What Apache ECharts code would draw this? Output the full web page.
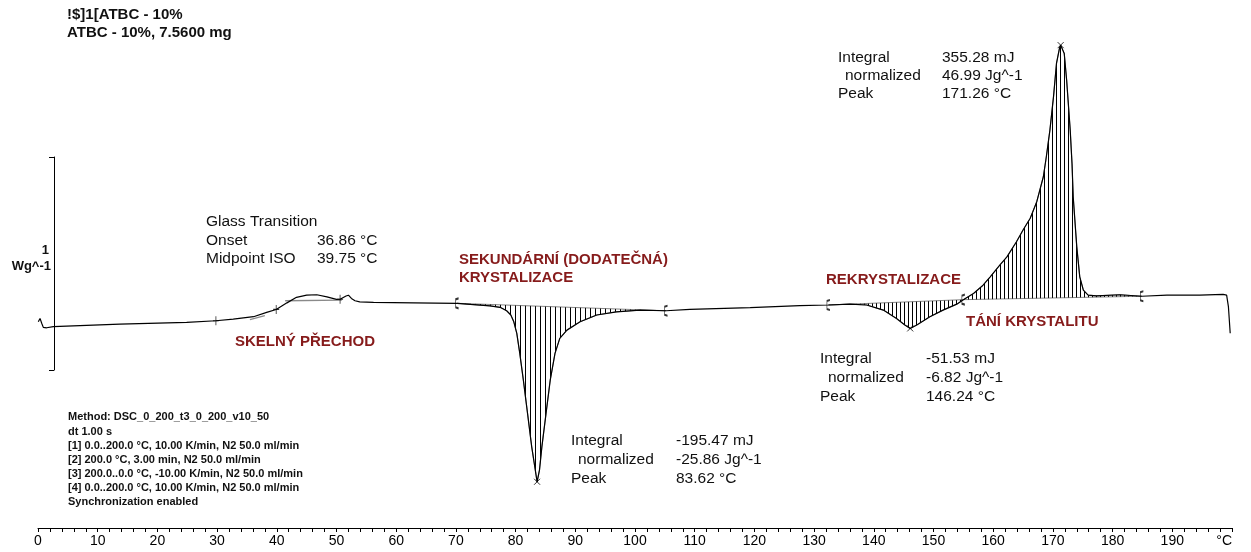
<!DOCTYPE html>
<html>
<head>
<meta charset="utf-8">
<script src="https://cdn.jsdelivr.net/npm/echarts@6.0.0/dist/echarts.min.js"></script>
<style>
html,body{margin:0;padding:0;background:#fff;}
#chart{width:1251px;height:552px;}
</style>
</head>
<body>
<div id="chart"></div>
<script>
// ---- data (temperature in °C, heat flow in W/g relative) ----
const temperature = [0.05,0.34,0.62,0.89,1.46,2.56,13.7,24.9,29.8,32.7,36.1,38.3,39.9,41.7,43.3,45.0,46.7,48.4,50.0,50.6,51.6,52.0,52.5,53.1,53.9,56.2,62.9,
  70.2,72.4,75.7,77.4,78.5,79.2,79.7,80.2,80.7,81.3,82.0,82.7,83.3,83.6,84.0,84.4,85.1,85.8,86.6,87.4,88.6,90.8,93.6,96.9,100.8,105.2,
  109.2,119.3,127.6,132.4,136.0,138.8,141.6,143.8,145.2,146.1,147.2,149.4,151.6,153.9,155.0,
  156.7,158.3,159.5,161.1,162.3,163.9,165.0,166.2,167.3,168.4,168.9,169.5,170.1,170.6,171.1,171.3,171.9,172.3,172.9,173.2,173.4,174.0,174.5,175.1,175.9,177.3,181.2,184.9,
  189.1,194.6,198.5,199.1,199.4,199.7];
const heatFlow = [-0.102,-0.086,-0.109,-0.128,-0.130,-0.125,-0.113,-0.105,-0.097,-0.089,-0.078,-0.058,-0.044,-0.013,0.013,0.023,0.025,0.015,0.003,0.004,0.019,0.023,0.008,-0.003,-0.008,-0.011,-0.013,
  -0.015,-0.020,-0.027,-0.034,-0.050,-0.070,-0.102,-0.156,-0.250,-0.376,-0.532,-0.689,-0.798,-0.853,-0.798,-0.689,-0.532,-0.376,-0.250,-0.180,-0.141,-0.102,-0.070,-0.055,-0.047,-0.050,
  -0.044,-0.035,-0.026,-0.023,-0.019,-0.023,-0.047,-0.086,-0.117,-0.133,-0.117,-0.078,-0.047,-0.019,0.002,
  0.031,0.070,0.109,0.164,0.203,0.274,0.329,0.384,0.462,0.579,0.673,0.798,0.954,1.111,1.182,1.197,1.158,1.033,0.798,0.642,0.485,0.250,0.109,0.047,0.023,0.020,0.025,0.018,
  0.023,0.023,0.027,0.023,-0.031,-0.156];

// integration limits (°C) and peaks
const integralStart = [70.2, 132.4, 155.0];
const integralEnd   = [105.2, 155.0, 184.9];
const peakTemps = [83.6, 146.1, 171.3];
const glassMarks = [29.8, 39.9, 50.6];
const glassTangentLow  = [[35.5,-0.092],[38.0,-0.073]];
const glassTangentHigh = [[41.4,-0.003],[50.9,0.000]];
const xTicks = {min:0, max:200, step:10};

function nearestIdx(t){
  let best=0, d=1e9;
  for(let i=0;i<temperature.length;i++){ const dd=Math.abs(temperature[i]-t); if(dd<d){d=dd;best=i;} }
  return best;
}
const curve = temperature.map((t,i)=>[t, heatFlow[i]]);
const limitPts = integralStart.concat([integralEnd[0], integralEnd[2]]).map(t=>{const i=nearestIdx(t);return [temperature[i],heatFlow[i]];});
const peakPts = peakTemps.map(t=>{const i=nearestIdx(t);return [temperature[i],heatFlow[i]];});
const glassPts = glassMarks.map(t=>{const i=nearestIdx(t);return [temperature[i],heatFlow[i]];});

function hatch(step){
  const c=document.createElement('canvas'); c.width=step; c.height=2;
  const g=c.getContext('2d'); g.fillStyle='#000'; g.fillRect(0,0,1,2);
  return {image:c, repeat:'repeat'};
}
const hatchFills = [hatch(5), hatch(4), hatch(4)];

const FONT = '"Liberation Sans", Arial, sans-serif';
const RED = '#861b1b';
function txt(x,y,text,size,weight,color,align){
  return {type:'text', x:x, y:y, silent:true,
    style:{text:text, fill:color||'#111', align:align||'left', verticalAlign:'middle',
      font:(weight||'normal')+' '+size+'px '+FONT}};
}
const graphics = [
  txt(67,15,'!$]1[ATBC - 10%',15,'bold'),
  txt(67,33,'ATBC - 10%, 7.5600 mg',15,'bold'),
  txt(49,250,'1',13,'bold','#111','right'),
  txt(51,266,'Wg^-1',13,'bold','#111','right'),
  txt(206,222,'Glass Transition',15.5),
  txt(206,241,'Onset',15.5), txt(317,241,'36.86 °C',15.5),
  txt(206,259,'Midpoint ISO',15.5), txt(317,259,'39.75 °C',15.5),
  txt(459,260,'SEKUNDÁRNÍ (DODATEČNÁ)',15,'bold',RED),
  txt(459,278,'KRYSTALIZACE',15,'bold',RED),
  txt(235,342,'SKELNÝ PŘECHOD',15,'bold',RED),
  txt(826,280,'REKRYSTALIZACE',15,'bold',RED),
  txt(966,322,'TÁNÍ KRYSTALITU',15,'bold',RED),
  txt(838,58,'Integral',15.5), txt(942,58,'355.28 mJ',15.5),
  txt(845,76,'normalized',15.5), txt(942,76,'46.99 Jg^-1',15.5),
  txt(838,94,'Peak',15.5), txt(942,94,'171.26 °C',15.5),
  txt(820,359,'Integral',15.5), txt(926,359,'-51.53 mJ',15.5),
  txt(828,378,'normalized',15.5), txt(926,378,'-6.82 Jg^-1',15.5),
  txt(820,397,'Peak',15.5), txt(926,397,'146.24 °C',15.5),
  txt(571,441,'Integral',15.5), txt(676,441,'-195.47 mJ',15.5),
  txt(578,460,'normalized',15.5), txt(676,460,'-25.86 Jg^-1',15.5),
  txt(571,479,'Peak',15.5), txt(676,479,'83.62 °C',15.5),
  txt(68,417,'Method: DSC_0_200_t3_0_200_v10_50',11,'bold'),
  txt(68,432,'dt 1.00 s',11,'bold'),
  txt(68,446,'[1] 0.0..200.0 °C, 10.00 K/min, N2 50.0 ml/min',11,'bold'),
  txt(68,460,'[2] 200.0 °C, 3.00 min, N2 50.0 ml/min',11,'bold'),
  txt(68,474,'[3] 200.0..0.0 °C, -10.00 K/min, N2 50.0 ml/min',11,'bold'),
  txt(68,488,'[4] 0.0..200.0 °C, 10.00 K/min, N2 50.0 ml/min',11,'bold'),
  txt(68,502,'Synchronization enabled',11,'bold')
];

const chart = echarts.init(document.getElementById('chart'), null, {renderer:'canvas'});
chart.setOption({
  animation:false,
  backgroundColor:'#fff',
  grid:[
    {left:38, right:19, top:12.54, bottom:24},
    {left:54, top:157, height:213, width:10}
  ],
  xAxis:[
    {type:'value', gridIndex:0, min:xTicks.min, max:xTicks.max, interval:xTicks.step,
     axisLine:{show:true, onZero:false, lineStyle:{color:'#000', width:1}},
     axisTick:{show:true, length:4, lineStyle:{color:'#000'}},
     minorTick:{show:true, splitNumber:5, length:4, lineStyle:{color:'#000'}},
     splitLine:{show:false},
     axisLabel:{color:'#000', fontSize:14, fontFamily:FONT, margin:6, alignMaxLabel:'right',
       formatter:v=> v===xTicks.max ? '°C' : String(v)}},
    {type:'value', gridIndex:1, show:false, min:0, max:1}
  ],
  yAxis:[
    {type:'value', gridIndex:0, min:-1.07, max:1.35, show:false},
    {type:'value', gridIndex:1, min:0, max:1, interval:1, position:'left',
     axisLine:{show:true, lineStyle:{color:'#000', width:1}},
     axisTick:{show:true, length:5, lineStyle:{color:'#000'}},
     axisLabel:{show:false}, splitLine:{show:false}}
  ],
  graphic: graphics,
  series:[
    {type:'custom', xAxisIndex:0, yAxisIndex:0, silent:true, z:1,
     data: integralStart.map((s,i)=>[s,0,integralEnd[i]]),
     encode:{x:0,y:1},
     renderItem:function(params, api){
       const i=params.dataIndex, s=integralStart[i], e=integralEnd[i];
       const pts=[];
       for(let k=0;k<temperature.length;k++){
         if(temperature[k]>=s-1e-9 && temperature[k]<=e+1e-9) pts.push(api.coord([temperature[k],heatFlow[k]]));
       }
       return {type:'polygon', shape:{points:pts}, style:{fill:hatchFills[i], stroke:'#333', lineWidth:0.6}};
     }},
    {type:'line', data:glassTangentLow, showSymbol:false, lineStyle:{color:'#8a8a8a', width:1.3}, z:2, silent:true},
    {type:'line', data:glassTangentHigh, showSymbol:false, lineStyle:{color:'#8a8a8a', width:1.3}, z:2, silent:true},
    {type:'line', data:curve, showSymbol:false, lineStyle:{color:'#000', width:1.2}, z:3, silent:true},
    {type:'scatter', data:limitPts, symbol:'path://M2,0 L0,1 L0,9 L2,10', symbolSize:[3,10],
     itemStyle:{color:'none', borderColor:'#000', borderWidth:1.2}, z:4, silent:true},
    {type:'scatter', data:peakPts, symbol:'path://M0,0 L10,10 M10,0 L0,10', symbolSize:6,
     itemStyle:{color:'none', borderColor:'#000', borderWidth:1}, z:4, silent:true},
    {type:'scatter', data:glassPts, symbol:'path://M0,5 L10,5 M5,0 L5,10', symbolSize:[6,9],
     itemStyle:{color:'none', borderColor:'#000', borderWidth:1}, z:4, silent:true}
  ]
});
</script>
</body>
</html>
